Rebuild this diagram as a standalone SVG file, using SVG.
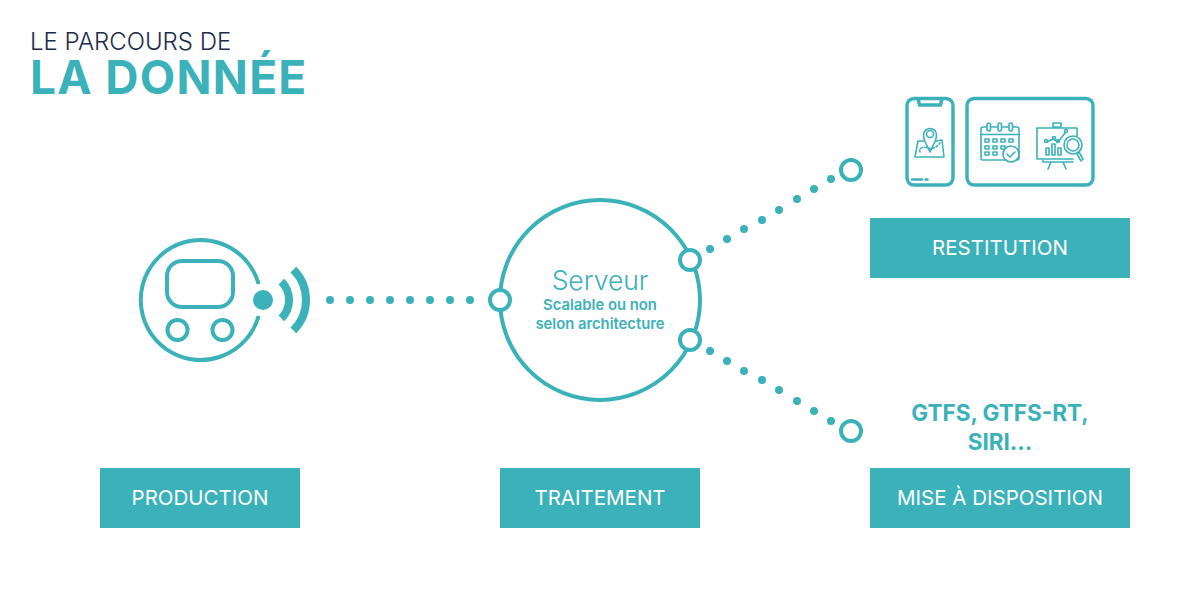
<svg xmlns="http://www.w3.org/2000/svg" width="1200" height="600" viewBox="0 0 1200 600">
<style>
text{font-family:"Inter","Open Sans",sans-serif}
.lab{font-size:20.500px;fill:#fff;text-anchor:middle;font-weight:400}
.box{fill:#3bb1b9}
.ln{fill:none;stroke:#3bb1b9;stroke-width:4}
.port{fill:#fff;stroke:#3bb1b9;stroke-width:4}
.dot{fill:#3bb1b9}
.ic{fill:none;stroke:#3bb1b9;stroke-width:1.6;stroke-linecap:round;stroke-linejoin:round}
.fr{fill:none;stroke:#3bb1b9;stroke-width:3.4}
.c{fill:#3bb1b9;text-anchor:middle}
</style>
<rect width="1200" height="600" fill="#fff"/>
<g id="title">
<text x="30" y="50" font-size="24" font-weight="300" fill="#1b2c4a">LE PARCOURS DE</text>
<text x="30" y="94" font-size="46" font-weight="700" letter-spacing="1.300" fill="#3bb1b9">LA DONNÉE</text>
</g>
<g id="connectors">
<g class="dot">
<circle cx="330" cy="300" r="4"/><circle cx="350" cy="300" r="4"/><circle cx="370" cy="300" r="4"/><circle cx="390" cy="300" r="4"/><circle cx="410" cy="300" r="4"/><circle cx="430" cy="300" r="4"/><circle cx="450" cy="300" r="4"/><circle cx="470" cy="300" r="4"/>
<circle cx="710" cy="249" r="4"/><circle cx="727" cy="239" r="4"/><circle cx="744" cy="229" r="4"/><circle cx="762" cy="220" r="4"/><circle cx="779" cy="210" r="4"/><circle cx="797" cy="199" r="4"/><circle cx="814" cy="189" r="4"/><circle cx="831" cy="179" r="4"/>
<circle cx="710" cy="351" r="4"/><circle cx="727" cy="361" r="4"/><circle cx="744" cy="371" r="4"/><circle cx="762" cy="380" r="4"/><circle cx="779" cy="390" r="4"/><circle cx="797" cy="401" r="4"/><circle cx="814" cy="411" r="4"/><circle cx="831" cy="421" r="4"/>
</g>
</g>
<g id="production-device">
<path class="ln" d="M258.600 284A60 60 0 1 0 258.600 316"/>
<rect class="ln" x="167" y="261" width="66" height="46" rx="15"/>
<circle class="ln" cx="177.500" cy="330" r="10"/>
<circle class="ln" cx="222.500" cy="330" r="10"/>
<circle class="dot" cx="263" cy="300" r="10"/>
<path fill="none" stroke="#3bb1b9" stroke-width="8" d="M281.400 281.600A26 26 0 0 1 281.400 318.400M293.400 269.600A43 43 0 0 1 293.400 330.400"/>
</g>
<g id="server">
<circle class="ln" cx="600" cy="300" r="100"/>
<circle class="port" cx="500" cy="300" r="10"/>
<circle class="port" cx="690" cy="260" r="10"/>
<circle class="port" cx="690" cy="340" r="10"/>
<text class="c" x="600" y="290" font-size="26.500" font-weight="300">Serveur</text>
<text class="c" x="600" y="310" font-size="14.800" font-weight="600">Scalable ou non</text>
<text class="c" x="600" y="329" font-size="14.800" font-weight="600">selon architecture</text>
</g>
<g id="endpoint-top"><circle class="port" cx="851" cy="170" r="10"/></g>
<g id="endpoint-bottom"><circle class="port" cx="851" cy="431" r="10"/></g>
<g id="phone-icon">
<rect class="fr" x="907" y="98.500" width="46" height="86.500" rx="7"/>
<path class="fr" stroke-width="2.500" d="M918 98.500l1.500 6.500h21l1.500-6.500"/>
<path d="M912 179.500h10" stroke="#3bb1b9" stroke-width="2.500" stroke-linecap="round"/>
<path d="M925.500 179.500h2" stroke="#3bb1b9" stroke-width="2.500" stroke-linecap="round"/>
<path class="ic" d="M924 141l-6 0-3 16h29l-2-17-6 1"/>
<path class="ic" d="M930 152c-3-7-6.500-11-6.500-17a6.500 6.500 0 0 1 13 0c0 6-3.500 10-6.500 17z"/>
<circle class="ic" cx="930" cy="134" r="3.500"/>
<path class="ic" stroke-dasharray="2 2" d="M920 152c-2-4 4-6 8-4s9-1 12-5"/>
</g>
<g id="dashboard-icon">
<rect class="fr" x="967" y="98.500" width="126" height="86.500" rx="7"/>
<g class="ic">
<rect x="981" y="127" width="38" height="33" rx="2"/>
<path d="M981 134.500h38"/>
<rect x="987" y="123" width="3.500" height="8" rx="1.700" fill="#fff"/><rect x="998" y="123" width="3.500" height="8" rx="1.700" fill="#fff"/><rect x="1009" y="123" width="3.500" height="8" rx="1.700" fill="#fff"/>
<rect x="985" y="139" width="4" height="3"/><rect x="993" y="139" width="4" height="3"/><rect x="1001" y="139" width="4" height="3"/><rect x="1009" y="139" width="4" height="3"/>
<rect x="985" y="146" width="4" height="3"/><rect x="993" y="146" width="4" height="3"/><rect x="1001" y="146" width="4" height="3"/>
<rect x="985" y="152" width="4" height="3"/><rect x="993" y="152" width="4" height="3"/>
<circle cx="1011" cy="154" r="8" fill="#fff"/>
<path d="M1007 154l3 3 5-5"/>
<path d="M1037 128v31h36M1037 128h40v8"/>
<rect x="1053" y="123" width="8" height="4"/>
<path d="M1043 160v2h30M1051 162l-3 7M1063 162l3 7"/>
<path d="M1047 142l6-3 5 3 7-9"/>
<circle cx="1046" cy="141" r="1.500"/><circle cx="1054" cy="138" r="1.500"/><circle cx="1058" cy="141" r="1.500"/><circle cx="1066" cy="131" r="1.500"/>
<rect x="1046" y="148" width="3" height="7"/><rect x="1052" y="144" width="3" height="11"/><rect x="1058" y="148" width="3" height="7"/>
<circle cx="1073" cy="145" r="9" fill="#fff"/><circle cx="1073" cy="145" r="6"/>
<path d="M1079 152l4 7-2 2-4-7z"/>
</g>
</g>
<g id="label-gtfs">
<text class="c" x="1000" y="421" font-size="22.500" font-weight="700">GTFS, GTFS-RT,</text>
<text class="c" x="1000" y="450" font-size="22.500" font-weight="700">SIRI…</text>
</g>
<g id="node-restitution"><rect class="box" x="870" y="218" width="260" height="60"/><text class="lab" x="1000" y="255">RESTITUTION</text></g>
<g id="node-production"><rect class="box" x="100" y="468" width="200" height="60"/><text class="lab" x="200" y="505">PRODUCTION</text></g>
<g id="node-traitement"><rect class="box" x="500" y="468" width="200" height="60"/><text class="lab" x="600" y="505">TRAITEMENT</text></g>
<g id="node-mise"><rect class="box" x="870" y="468" width="260" height="60"/><text class="lab" x="1000" y="505">MISE À DISPOSITION</text></g>
</svg>
